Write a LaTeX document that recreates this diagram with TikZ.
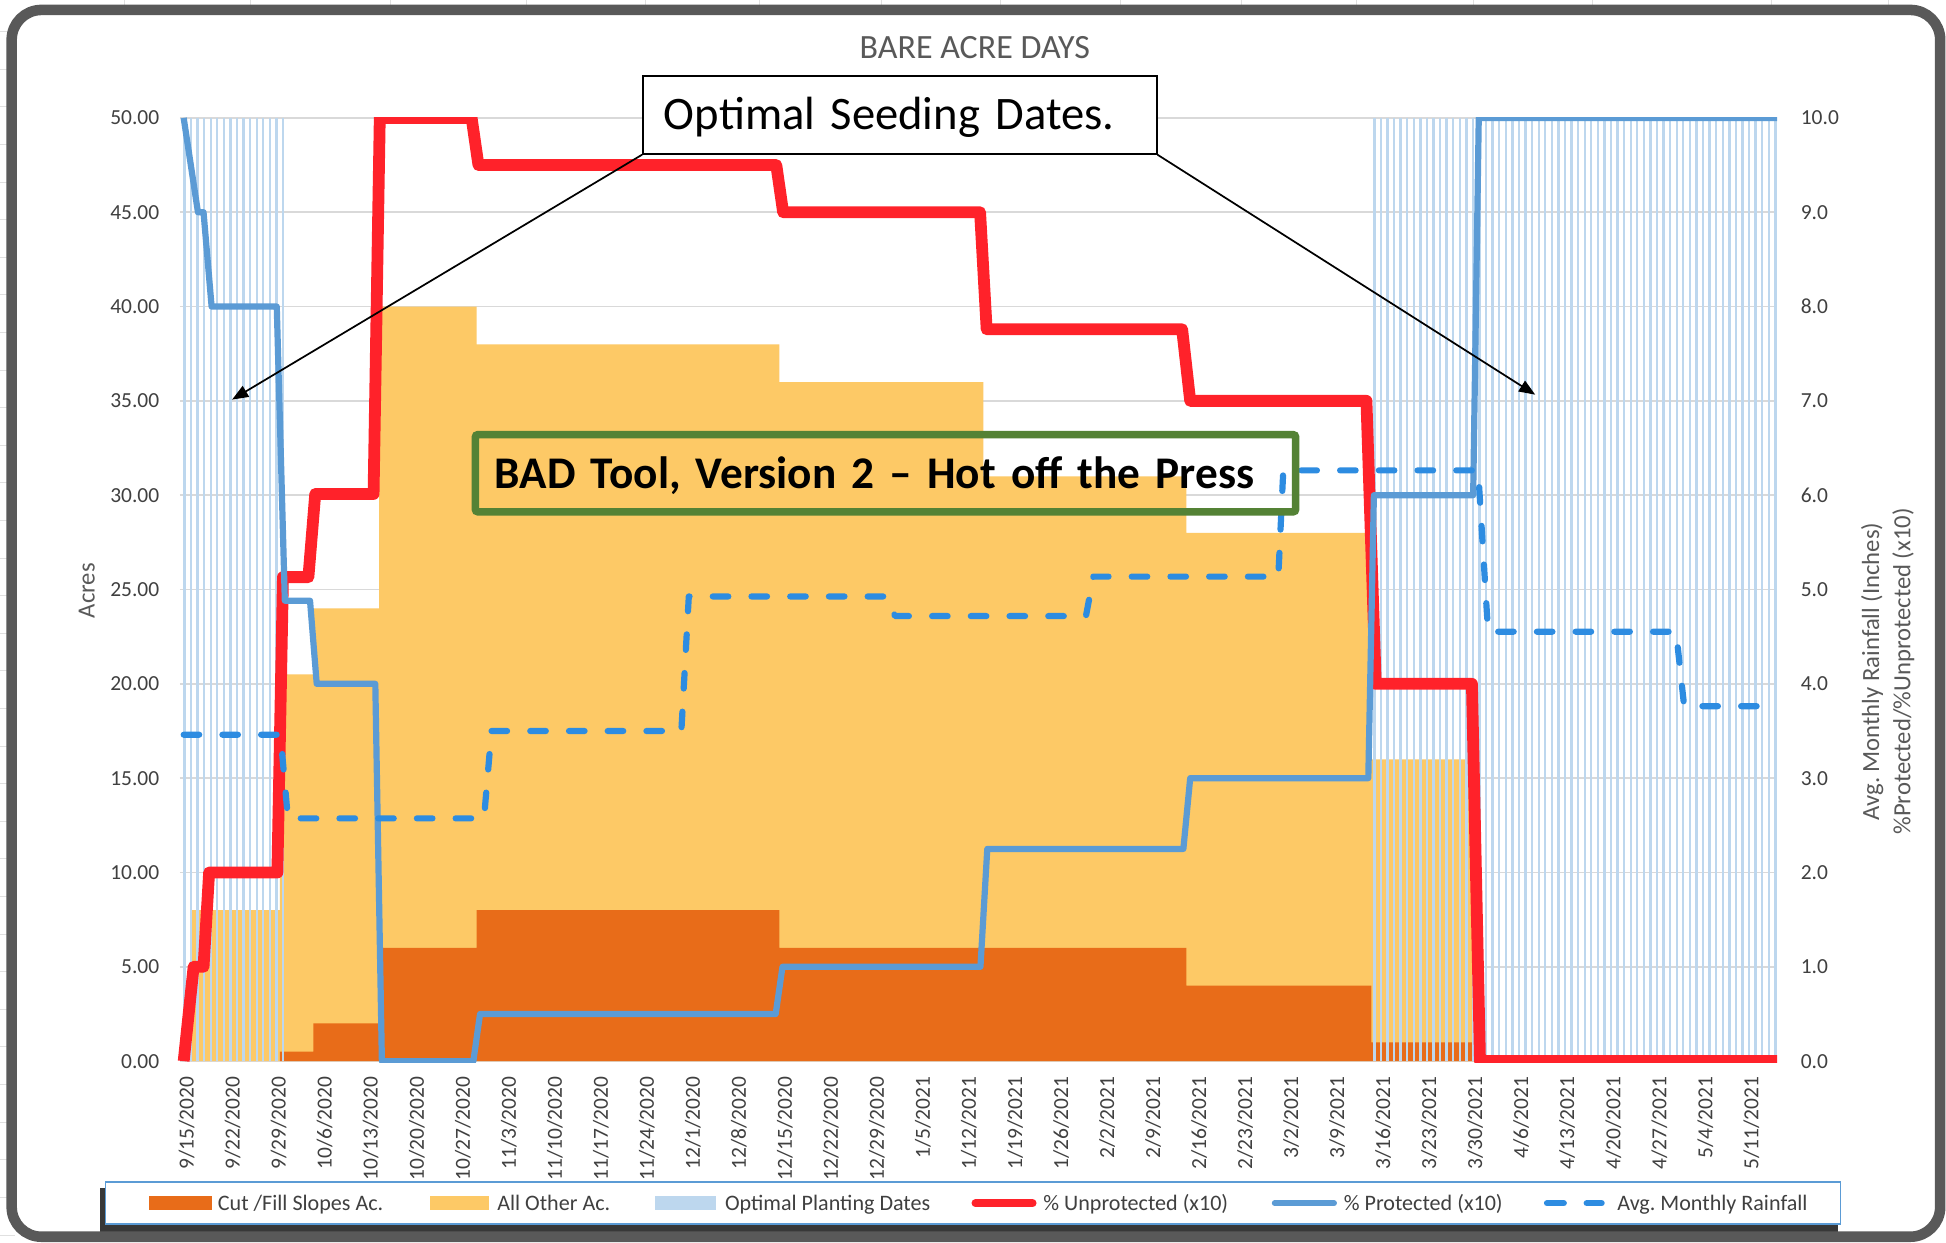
\documentclass[tikz,border=0pt]{standalone}
\usepackage{fontspec}
\setmainfont{Carlito}
\newfontfamily\calloutfont{Carlito}[WordSpace=0.65]
\usetikzlibrary{arrows.meta}
\frenchspacing

\definecolor{framegray}{RGB}{89,89,89}
\definecolor{gridgray}{RGB}{217,217,217}
\definecolor{cellgray}{RGB}{224,224,224}
\definecolor{cutfill}{RGB}{232,108,25}
\definecolor{allother}{RGB}{253,201,102}
\definecolor{optimal}{RGB}{189,215,238}
\definecolor{unprot}{RGB}{255,34,42}
\definecolor{prot}{RGB}{91,155,213}
\definecolor{rain}{RGB}{45,140,225}
\definecolor{labelgray}{RGB}{64,64,64}
\definecolor{titlegray}{RGB}{89,89,89}
\definecolor{boxgreen}{RGB}{84,130,53}

\begin{document}
\begin{tikzpicture}[x=1pt,y=-1pt,
  ticklab/.style={font=\fontsize{17.3}{20}\selectfont, text=labelgray, inner sep=0pt},
  datelab/.style={ticklab, rotate=90, anchor=east},
  legtext/.style={font=\fontsize{17.8}{20}\selectfont, text=labelgray, anchor=base west, inner sep=0pt},
  axtitle/.style={font=\fontsize{19.9}{25}\selectfont, text=titlegray, inner sep=0pt, rotate=90, align=center},
  unprotline/.style={draw=unprot, line width=9.5, line join=round},
  protline/.style={draw=prot, line width=5, line join=round},
  rainline/.style={draw=rain, line width=5, line cap=round, line join=round, dash pattern=on 12.5pt off 18.7pt},
  callout/.style={-{Triangle[length=13pt,width=10pt]}, line width=1.4, draw=black},
  seedbox/.style={draw=black, line width=1.3, fill=white, inner xsep=17, inner ysep=0,
    text width=380, align=left, minimum height=63, font=\calloutfont\fontsize{38}{40}\selectfont,
    text height=24.4, text depth=0},
  badbox/.style={draw=boxgreen, line width=6, inner xsep=15.6, inner ysep=0, text width=629.8,
    align=left, minimum height=62.2, font=\calloutfont\bfseries\fontsize{38}{40}\selectfont,
    text height=24.4, text depth=0, rounded corners=2},
]
% canvas
\fill[white] (0,0) rectangle (1568,1001);
\useasboundingbox (0,0) rectangle (1568,1001);

% worksheet cell lines around the chart object
\foreach \cx in {100,201.5,314.7,424.5,519.8,612,710,806,903,1000,1093,1187,1283,1427.6,1522}
  \draw[cellgray, line width=0.8] (\cx,0) -- (\cx,12);
\foreach \k in {0,...,32}
  \draw[cellgray, line width=0.8] (0,{25.5+30.3*\k}) -- (12,{25.5+30.3*\k});
\fill[white, rounded corners=24] (9.4,8) rectangle (1563.3,996.5);

% horizontal gridlines
\foreach \k in {0,...,10}
  \draw[gridgray, line width=1.3] (145,{95+76*\k}) -- (1432,{95+76*\k});

% stacked acreage: all other (total) and cut/fill slopes
\fill[allother] (154,855) -- (154,733.4) -- (225.6,733.4) -- (225.6,543.4) -- (252.5,543.4)
  -- (252.5,490.2) -- (305.5,490.2) -- (305.5,247) -- (384,247) -- (384,277.4) -- (628,277.4)
  -- (628,307.8) -- (792.4,307.8) -- (792.4,383.8) -- (956,383.8) -- (956,429.4) -- (1105,429.4)
  -- (1105,611.8) -- (1188.5,611.8) -- (1188.5,855) -- cycle;
\fill[cutfill] (225.6,855) -- (225.6,847.4) -- (252.5,847.4) -- (252.5,824.6) -- (305.5,824.6)
  -- (305.5,763.8) -- (384,763.8) -- (384,733.4) -- (628,733.4) -- (628,763.8) -- (956,763.8)
  -- (956,794.2) -- (1105,794.2) -- (1105,839.8) -- (1188.5,839.8) -- (1188.5,855) -- cycle;

% optimal planting dates (one bar per day)
\foreach \d in {0,...,15}
  \draw[optimal, line width=1.9] ({148.6+5.297*\d},95) -- ({148.6+5.297*\d},855);
\foreach \d in {181,...,242}
  \draw[optimal, line width=1.9] ({148.6+5.297*\d},95) -- ({148.6+5.297*\d},855);

% line series
\begin{scope}
\clip (140,94.5) rectangle (1440,856.5);
\draw[unprotline] (148,855) -- (156,779) -- (164,779) -- (168.5,703) -- (223.5,703) -- (228,465)
  -- (248.5,465) -- (254,398) -- (301,398) -- (306,95) -- (380,95) -- (385.5,133) -- (625.5,133)
  -- (631,171) -- (789.7,171) -- (795,265.3) -- (952.5,265.3) -- (959,323) -- (1101,323)
  -- (1108.5,551) -- (1186,551) -- (1192.5,855) -- (1432,855);
\draw[protline] (148,95) -- (159.5,171) -- (164,171) -- (170.5,247) -- (223,247) -- (229.5,484)
  -- (249.8,484) -- (255.2,551) -- (302.4,551) -- (307.7,855) -- (381.4,855) -- (386.8,817)
  -- (625,817) -- (630.5,779) -- (790,779) -- (795.5,684) -- (953.5,684) -- (959,627)
  -- (1102.5,627) -- (1107,399) -- (1187,399) -- (1191.5,95) -- (1432,95);
\draw[rainline] (148,592) -- (226,592) -- (232,659.4) -- (390,659.4) -- (396,589) -- (549,589)
  -- (555,480.6) -- (714.5,480.6) -- (721.2,496.4) -- (875,496.4) -- (881,464.6) -- (1030,464.6)
  -- (1034,379) -- (1191,379) -- (1199,509) -- (1350.5,509) -- (1357,569) -- (1432,569);
\end{scope}

% axis labels
\foreach \v [count=\i from 0] in {50.00,45.00,40.00,35.00,30.00,25.00,20.00,15.00,10.00,5.00,0.00}
  \node[ticklab, anchor=east] (yl\i) at (128.5,{95+76*\i}) {\v};
\foreach \v [count=\i from 0] in {10.0,9.0,8.0,7.0,6.0,5.0,4.0,3.0,2.0,1.0,0.0}
  \node[ticklab, anchor=west] (yr\i) at (1450.8,{95+76*\i}) {\v};
\foreach \t [count=\k from 0] in {9/15/2020,9/22/2020,9/29/2020,10/6/2020,10/13/2020,10/20/2020,10/27/2020,11/3/2020,11/10/2020,11/17/2020,11/24/2020,12/1/2020,12/8/2020,12/15/2020,12/22/2020,12/29/2020,1/5/2021,1/12/2021,1/19/2021,1/26/2021,2/2/2021,2/9/2021,2/16/2021,2/23/2021,3/2/2021,3/9/2021,3/16/2021,3/23/2021,3/30/2021,4/6/2021,4/13/2021,4/20/2021,4/27/2021,5/4/2021,5/11/2021}
  \node[datelab] (xl\k) at ({150.4+37.08*\k},867.5) {\t};

% titles
\node[font=\fontsize{27.4}{30}\selectfont, text=titlegray, inner sep=0pt] (title) at (785.5,38) {BARE ACRE DAYS};
\node[axtitle] (acres) at (70,476) {Acres};
\node[axtitle] (raintitle) at (1521,541) {Avg. Monthly Rainfall (Inches)\\\%Protected/\%Unprotected (x10)};

% callouts
\node[seedbox] (seed) at (725,92.5) {\resizebox{363pt}{!}{Optimal Seeding Dates.}};
\coordinate (tipL) at (187,322);
\coordinate (tipR) at (1237,318);
\draw[callout] (seed.south west) -- (tipL);
\draw[callout] (seed.south east) -- (tipR);
\node[badbox] (bad) at (713.5,381.3) {\resizebox{612pt}{!}{BAD Tool, Version 2 – Hot off the Press}};

% legend
\fill[black!78] (80.5,957) rectangle (1481,993);
\node[draw=prot, line width=1.3, fill=white, minimum width=1398, minimum height=33.5, inner sep=0pt] (legend) at (784,969.25) {};
\fill[cutfill] (120,964) rectangle (171,975);
\node[legtext] (lg1) at (175.4,975) {Cut /Fill Slopes Ac.};
\fill[allother] (346.6,964) rectangle (394,975);
\node[legtext] (lg2) at (400.5,975) {All Other Ac.};
\fill[optimal] (528,964) rectangle (577,975);
\node[legtext] (lg3) at (584,975) {Optimal Planting Dates};
\draw[unprot, line width=6.4, line cap=round] (786,969.5) -- (832,969.5);
\node[legtext] (lg4) at (840.5,975) {\% Unprotected (x10)};
\draw[prot, line width=4.5, line cap=round] (1027,969.5) -- (1075,969.5);
\node[legtext] (lg5) at (1082.6,975) {\% Protected (x10)};
\draw[rain, line width=5, line cap=round] (1246.5,969.5) -- (1260,969.5);
\draw[rain, line width=5, line cap=round] (1278.5,969.5) -- (1290.5,969.5);
\node[legtext] (lg6) at (1303,975) {Avg. Monthly Rainfall};

% chart frame
\draw[framegray, line width=8.5, rounded corners=24] (9.4,8) rectangle (1563.3,996.5);
\end{tikzpicture}
\end{document}
